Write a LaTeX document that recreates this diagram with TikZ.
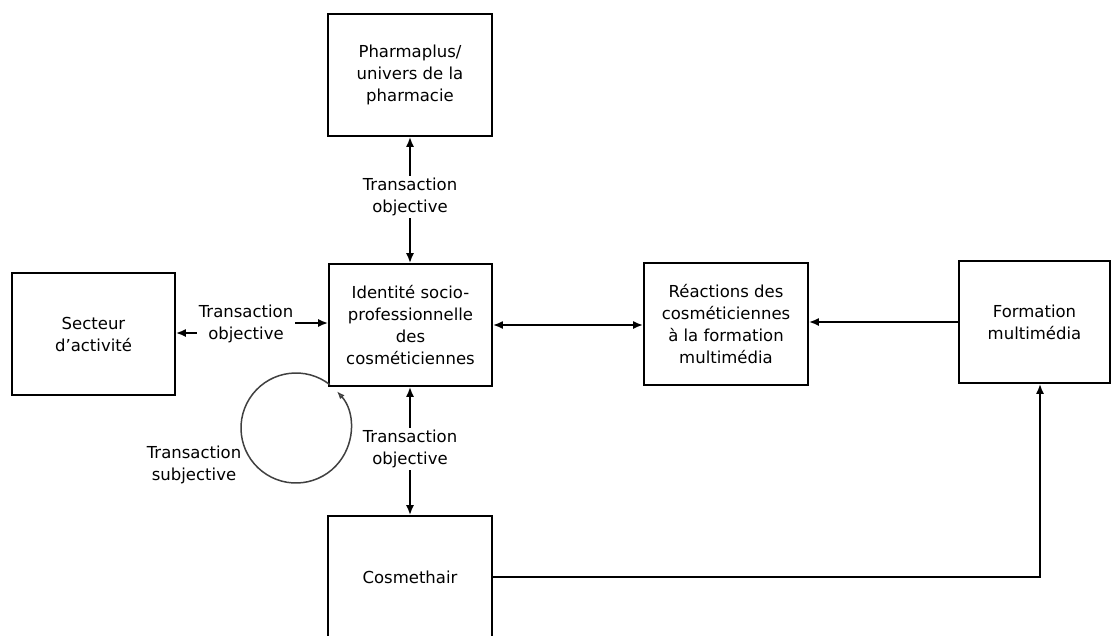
\documentclass[tikz,border=0pt]{standalone}
\usepackage{fontspec}
\setmainfont{DejaVu Sans}
\usetikzlibrary{arrows.meta}
\begin{document}
\begin{tikzpicture}[x=1pt,y=-1pt,
  every node/.style={font=\fontsize{16.5}{22}\selectfont, align=center},
  box/.style={draw, line width=1.7pt, inner sep=0pt},
  lbl/.style={inner sep=2pt},
  tip/.style={-{Latex[length=10pt,width=8pt]}, line width=1.8pt},
  dtip/.style={{Latex[length=10pt,width=8pt]}-{Latex[length=10pt,width=8pt]}, line width=2pt}]
\useasboundingbox (0,0) rectangle (1113,635);
% boxes
\node[box, minimum width=164pt, minimum height=122pt] (ph) at (410,75) {Pharmaplus/\\univers de la\\pharmacie};
\node[box, minimum width=163pt, minimum height=122pt] (id) at (410.5,325) {Identité socio-\\professionnelle\\des\\cosméticiennes};
\node[box, minimum width=163pt, minimum height=122pt] (sec) at (93.5,334) {Secteur\\d'activité};
\node[box, minimum width=164pt, minimum height=122pt] (rea) at (726,324) {Réactions des\\cosméticiennes\\à la formation\\multimédia};
\node[box, minimum width=151pt, minimum height=122pt] (form) at (1034.5,322) {Formation\\multimédia};
\node[box, minimum width=164pt, minimum height=122pt] (cos) at (410,577) {Cosmethair};
% labels
\node[lbl] (tl) at (410,197) {Transaction\\objective};
\node[lbl] (bl) at (410,449) {Transaction\\objective};
\node[lbl] (ll) at (246,324) {Transaction\\objective};
\node[lbl] (sl) at (194,465) {Transaction\\subjective};
% vertical transactions
\draw[tip] (tl.north) -- (tl.north |- ph.south);
\draw[tip] (tl.south) -- (tl.south |- id.north);
\draw[tip] (bl.north) -- (bl.north |- id.south);
\draw[tip] (bl.south) -- (bl.south |- cos.north);
% horizontal transaction
\draw[tip] ([yshift=-9pt]ll.west) -- ([yshift=-9pt]ll.west -| sec.east);
\draw[tip] ([yshift=1pt]ll.east) -- ([yshift=1pt]ll.east -| id.west);
% main flow
\draw[dtip] (id.east) -- (id.east -| rea.west);
\draw[tip] (form.west) -- (form.west -| rea.east);
\coordinate (corner) at (1040,577);
\draw[tip] (cos.east) -- (corner) -- (corner |- form.south);
% subjective loop
\coordinate (cc) at (296,428);
\draw[gray!50!black, line width=1.5pt, -{Latex[length=8pt,width=6pt,open]}]
  ([shift={(308:55)}]cc) arc[start angle=308, end angle=-42, radius=55];
\end{tikzpicture}
\end{document}
